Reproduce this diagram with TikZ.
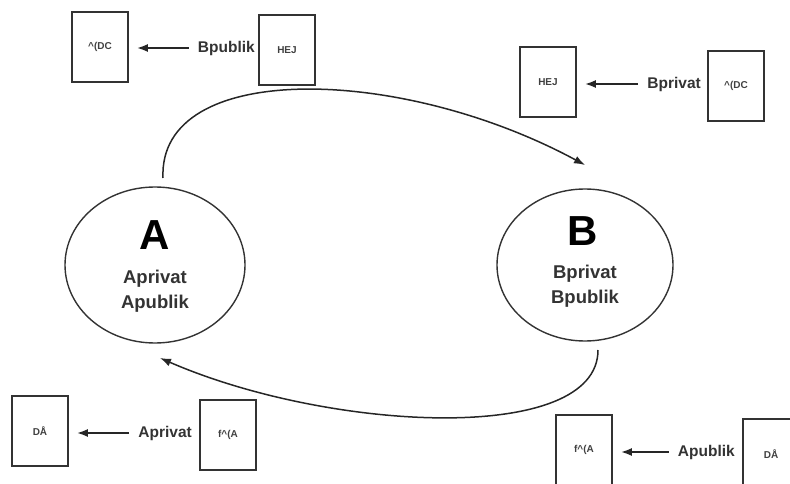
\documentclass[tikz,border=0pt]{standalone}
\usepackage{fontspec}
\setmainfont{Liberation Sans}
\usetikzlibrary{arrows.meta}
\begin{document}
\begin{tikzpicture}[x=1pt,y=-1pt,
  line/.style={draw=black!80,line width=1.6pt},
  msg/.style={line,minimum width=56pt,minimum height=70pt,inner sep=0pt,font=\fontsize{10}{11}\selectfont\bfseries,text=black!75},
  lbl/.style={font=\fontsize{15.5}{16}\selectfont\bfseries,text=black!80,inner sep=1pt},
  keys/.style={font=\fontsize{18.5}{24.5}\selectfont\bfseries,text=black!80,align=center,inner sep=0pt},
  big/.style={font=\fontsize{42}{44}\selectfont\bfseries,inner sep=0pt},
  arr/.style={draw=black!85,line width=1.5pt,-{Latex[length=11pt,width=8pt]}},
  sarr/.style={draw=black!85,line width=2pt,-{Latex[length=11pt,width=8pt]}}]
\useasboundingbox (0,0) rectangle (790,484);
\clip (0,0) rectangle (790,484);
% top-left
\node[msg] (tl1) at (100,47) {\textasciicircum(DC};
\node[msg] (tl2) at (287,50) {HEJ};
\node[lbl,anchor=east] (tll) at (256,48) {Bpublik};
\draw[sarr] ([xshift=-8pt]tll.west) -- ([xshift=8pt]tl1.east |- tll.west);
% top-right
\node[msg] (tr1) at (548,82) {HEJ};
\node[msg] (tr2) at (736,86) {\textasciicircum(DC};
\node[lbl,anchor=east] (trl) at (702,84) {Bprivat};
\draw[sarr] ([xshift=-8pt]trl.west) -- ([xshift=8pt]tr1.east |- trl.west);
% bottom-left
\node[msg] (bl1) at (40,431) {DÅ};
\node[msg] (bl2) at (228,435) {f\textasciicircum(A};
\node[lbl,anchor=east] (bll) at (193,433) {Aprivat};
\draw[sarr] ([xshift=-8pt]bll.west) -- ([xshift=8pt]bl1.east |- bll.west);
% bottom-right
\node[msg] (br1) at (584,450) {f\textasciicircum(A};
\node[msg] (br2) at (771,454) {DÅ};
\node[lbl,anchor=east] (brl) at (736,452) {Apublik};
\draw[sarr] ([xshift=-8pt]brl.west) -- ([xshift=8pt]br1.east |- brl.west);
% ellipses
\draw[line,line width=1.4pt] (155,265) ellipse [x radius=90,y radius=78];
\draw[line,line width=1.4pt] (585,265) ellipse [x radius=88,y radius=76];
\node[big] (Aname) at (155,235) {A};
\node[keys] (Akeys) at (155,291) {Aprivat\\Apublik};
\node[big] (Bname) at (583,231) {B};
\node[keys] (Bkeys) at (585,286) {Bprivat\\Bpublik};
% cycle arrows
\coordinate (As) at (163,178);
\coordinate (Be) at (585,165);
\draw[arr] (As) .. controls (158,60) and (400,65) .. (Be);
\coordinate (Bs) at (598,350);
\coordinate (Ae) at (160,358);
\draw[arr] (Bs) .. controls (598,445) and (330,432) .. (Ae);
\end{tikzpicture}
\end{document}
